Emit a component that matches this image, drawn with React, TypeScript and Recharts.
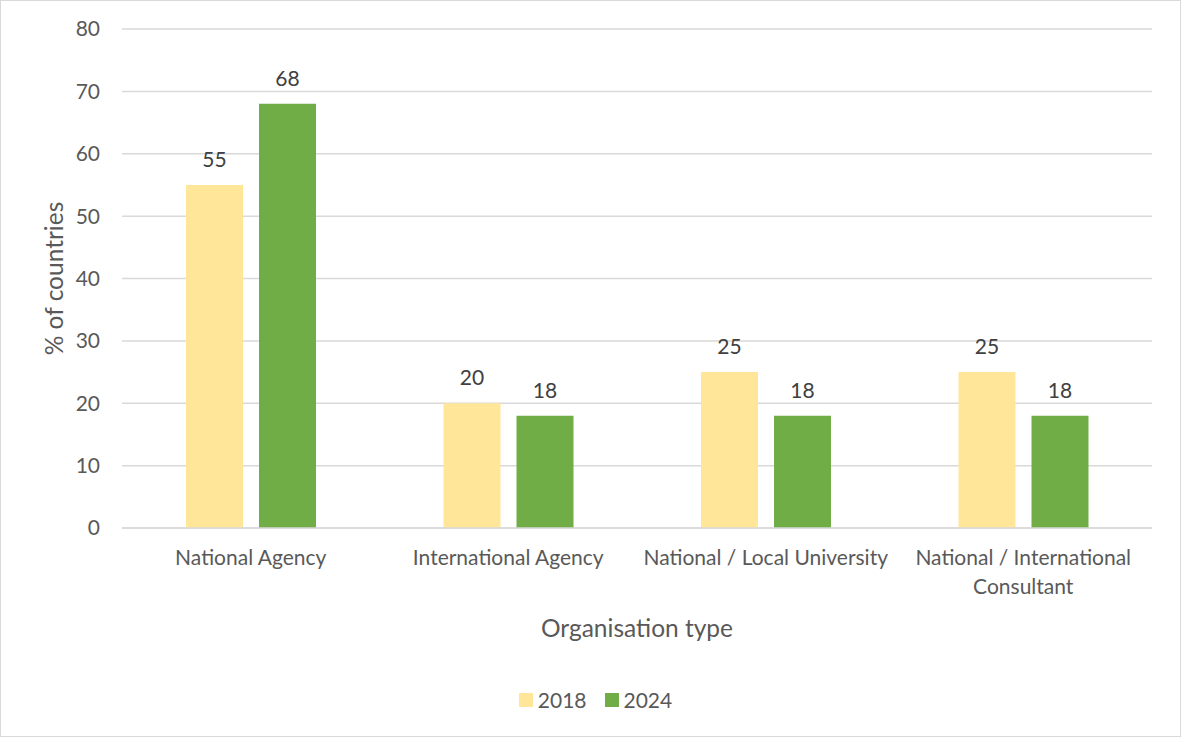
import * as React from 'react';
import { BarChart, Bar, XAxis, YAxis, CartesianGrid, Legend, LabelList } from 'recharts';

// '\n' marks where the reference wraps a long category label
const categories = [
  'National Agency',
  'International Agency',
  'National / Local University',
  'National / International\nConsultant',
];
const values2018 = [55, 20, 25, 25];
const values2024 = [68, 18, 18, 18];
const yTicks = [0, 10, 20, 30, 40, 50, 60, 70, 80];

const data = categories.map((name, i) => ({
  name,
  y2018: values2018[i],
  y2024: values2024[i],
}));

const FONT = 'Lato, "Open Sans", sans-serif';
const AXIS_TEXT = '#595959';
const TICK_SIZE = 21;

const XTick = (props: any) => {
  const { x, y, payload } = props;
  const lines = String(payload.value).split('\n');
  return (
    <text x={x} y={y} textAnchor="middle" fill={AXIS_TEXT} fontSize={TICK_SIZE} fontFamily={FONT}>
      {lines.map((line, i) => (
        <tspan key={i} x={x} dy={i === 0 ? 15 : 29}>
          {line}
        </tspan>
      ))}
    </text>
  );
};

const YLabel = (props: any) => {
  const { viewBox } = props;
  const cx = viewBox.x + 52;
  const cy = viewBox.y + viewBox.height / 2;
  return (
    <text
      x={cx}
      y={cy}
      transform={`rotate(-90 ${cx} ${cy})`}
      textAnchor="middle"
      dominantBaseline="central"
      fill={AXIS_TEXT}
      fontSize={24.5}
      fontFamily={FONT}
    >
      % of countries
    </text>
  );
};

const XLabel = (props: any) => {
  const { viewBox } = props;
  const cx = viewBox.x + viewBox.width / 2;
  return (
    <text
      x={cx}
      y={viewBox.y + 99}
      textAnchor="middle"
      dominantBaseline="central"
      fill={AXIS_TEXT}
      fontSize={24.5}
      fontFamily={FONT}
    >
      Organisation type
    </text>
  );
};

const LegendContent = () => (
  <div style={{ display: 'flex', justifyContent: 'center', alignItems: 'center', fontFamily: FONT, fontSize: TICK_SIZE, color: AXIS_TEXT, paddingLeft: 10 }}>
    <span style={{ display: 'inline-block', width: 14, height: 14, background: '#FFE699', marginRight: 5 }} />
    <span style={{ marginRight: 18 }}>2018</span>
    <span style={{ display: 'inline-block', width: 14, height: 14, background: '#70AD47', marginRight: 5 }} />
    <span>2024</span>
  </div>
);

const App: React.FC = () => {
  return (
    <div
      style={{
        position: 'absolute',
        left: 0,
        top: 0,
        width: 1181,
        height: 737,
        boxSizing: 'border-box',
        border: '1px solid #d9d9d9',
        background: '#fff',
        fontFamily: FONT,
      }}
    >
      <BarChart
        width={1179}
        height={735}
        data={data}
        margin={{ top: 28, right: 28, left: 0, bottom: 23 }}
        barSize={57}
        barGap={16}
      >
        <CartesianGrid vertical={false} stroke="#d9d9d9" strokeWidth={1.5} />
        <XAxis
          dataKey="name"
          height={159}
          interval={0}
          tickLine={false}
          tickSize={0}
          tickMargin={22}
          axisLine={{ stroke: '#d9d9d9', strokeWidth: 1.5 }}
          tick={<XTick />}
          label={<XLabel />}
        />
        <YAxis
          width={121}
          domain={[0, 80]}
          ticks={yTicks}
          tickLine={false}
          tickSize={0}
          tickMargin={22}
          axisLine={false}
          tick={{ fill: AXIS_TEXT, fontSize: TICK_SIZE, fontFamily: FONT }}
          label={<YLabel />}
        />
        <Legend
          verticalAlign="bottom"
          height={26}
          content={<LegendContent />}
          wrapperStyle={{ left: 0, width: 1179 }}
        />
        <Bar dataKey="y2018" name="2018" fill="#FFE699" isAnimationActive={false}>
          <LabelList dataKey="y2018" position="top" offset={18} fill="#404040" fontSize={TICK_SIZE} fontFamily={FONT} />
        </Bar>
        <Bar dataKey="y2024" name="2024" fill="#70AD47" isAnimationActive={false}>
          <LabelList dataKey="y2024" position="top" offset={18} fill="#404040" fontSize={TICK_SIZE} fontFamily={FONT} />
        </Bar>
      </BarChart>
    </div>
  );
};

export default App;
